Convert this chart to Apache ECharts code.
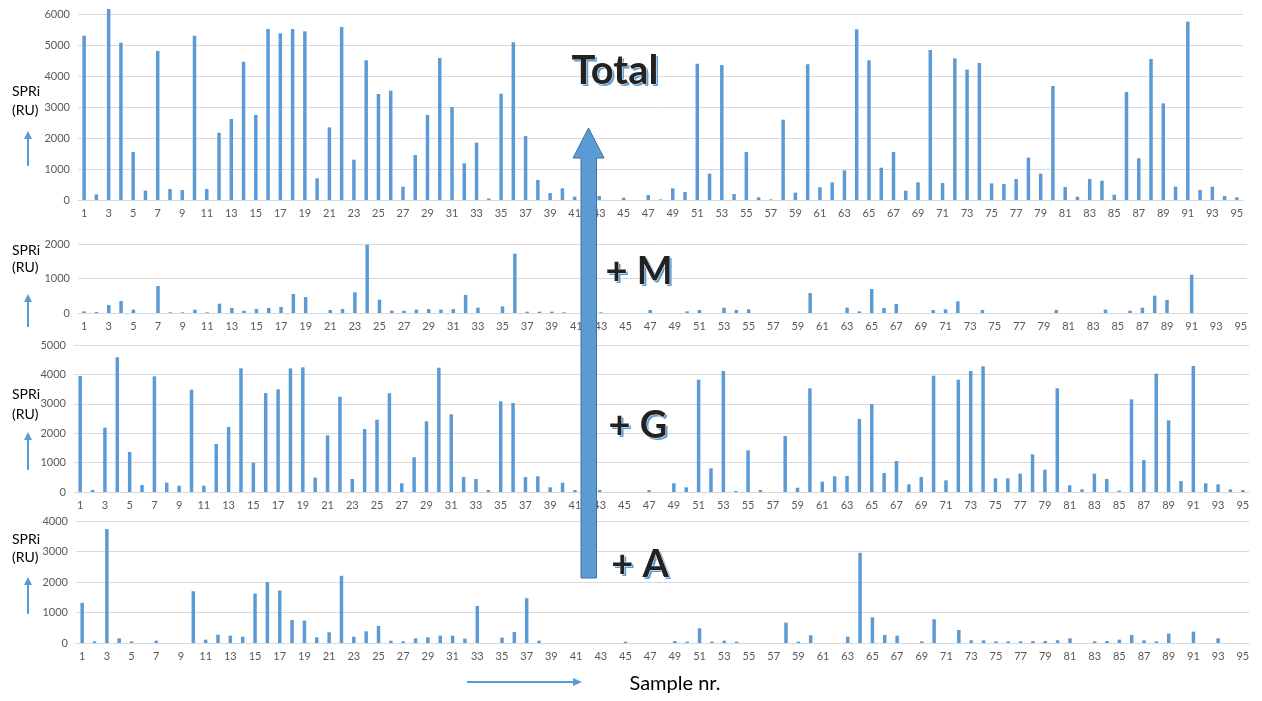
<!DOCTYPE html>
<html><head><meta charset="utf-8">
<script src="https://cdn.jsdelivr.net/npm/echarts@6/dist/echarts.min.js"></script>
<style>html,body{margin:0;padding:0;background:#fff}#c{width:1262px;height:701px}</style>
</head><body><div id="c"></div>
<script>
const samples = Array.from({length:95},(_,i)=>String(i+1));
const total = [5300,180,6160,5075,1550,300,4806,355,320,5300,
355,2172,2613,4462,2742,5516,5376,5516,5441,700,
2344,5580,1301,4505,3419,3527,430,1450,2742,4581,
3000,1183,1850,50,3430,5086,2065,645,226,376,
107,60,130,0,75,0,160,20,376,258,
4398,850,4355,194,1548,86,20,2591,237,4376,
409,570,957,5505,4505,1043,1548,301,570,4839,
548,4570,4204,4419,538,516,677,1366,850,3677,
419,107,677,624,172,3484,1344,4548,3118,430,
5753,323,430,129,86];
const plusM = [48,30,232,348,97,0,783,20,20,97,
20,270,145,68,116,145,174,551,464,0,
87,116,600,1980,386,68,68,97,116,97,
116,522,155,0,193,1720,39,39,39,20,
0,0,20,0,0,0,87,0,0,48,
87,0,155,87,106,0,0,0,0,580,
0,0,155,48,696,145,261,0,0,87,
106,338,0,87,0,0,0,0,0,87,
0,0,0,97,0,68,155,502,377,0,
1111,0,0,0,0];
const plusG = [3946,68,2188,4580,1360,238,3934,317,215,3480,
215,1633,2211,4206,998,3367,3492,4206,4240,488,
1927,3243,442,2143,2460,3356,295,1179,2404,4229,
2642,510,442,68,3084,3027,510,533,159,317,
68,60,68,0,0,0,68,0,295,159,
3821,805,4116,34,1417,68,0,1905,147,3526,
351,533,544,2483,2993,646,1054,261,510,3957,
397,3821,4116,4274,465,465,624,1281,760,3526,
227,91,624,442,45,3152,1088,4025,2438,374,
4286,295,261,91,68];
const plusA = [1315,55,3737,153,55,0,77,0,0,1699,
110,274,241,208,1622,1995,1721,756,734,186,
351,2203,208,384,559,77,55,153,186,241,
241,142,1216,0,175,362,1468,77,0,0,
0,0,0,0,44,0,0,0,66,44,
482,44,77,44,0,0,0,668,44,252,
0,0,208,2959,844,263,241,0,55,778,
0,427,88,88,55,55,55,66,66,88,
153,0,55,66,110,263,88,55,307,0,
373,0,153,0,0];
const yMax = [6000, 2000, 5000, 4000];
const yInterval = 1000;
const panelNames = ['Total', '+ M', '+ G', '+ A'];
const yTitle = ['SPRi', '(RU)'];
const xTitle = 'Sample nr.';

const seriesData = [total, plusM, plusG, plusA];
const grids = [
  {left:78, top:14, width:1165, height:186},
  {left:78, top:244, width:1169, height:69},
  {left:74, top:345, width:1175, height:147},
  {left:76, top:521, width:1173, height:122}
];
const FONT = 'Lato, "Open Sans", sans-serif';
const blue = '#5B9BD5';
const gray = '#595959';
const gridCol = '#d9d9d9';

const xAxis = grids.map((g,i)=>({
  type:'category', gridIndex:i, data:samples,
  axisTick:{show:false},
  axisLine:{lineStyle:{color:gridCol}},
  axisLabel:{interval:1, color:gray, fontSize:11, fontFamily:FONT, margin:8}
}));
const yAxis = grids.map((g,i)=>({
  type:'value', gridIndex:i, min:0, max:yMax[i], interval:yInterval,
  axisLine:{show:false}, axisTick:{show:false},
  splitLine:{lineStyle:{color:gridCol, width:1}},
  axisLabel:{color:gray, fontSize:11, fontFamily:FONT, margin:8, formatter:v=>String(v)}
}));
const series = seriesData.map((d,i)=>({
  type:'bar', xAxisIndex:i, yAxisIndex:i, data:d, barWidth:3.5,
  clip:false, itemStyle:{color:blue}, silent:true, animation:false
}));

const sideTitle = [{y1:93,y2:112,a1:166,a2:131},{y1:252,y2:269,a1:327,a2:294},{y1:396,y2:416,a1:470,a2:432},{y1:541,y2:559,a1:614,a2:577}];
const graphic = [];
sideTitle.forEach(s=>{
  graphic.push({type:'text', left:12, top:s.y1-9, style:{text:yTitle[0], font:'14px '+FONT, fill:'#000'}});
  graphic.push({type:'text', left:12, top:s.y2-9, style:{text:yTitle[1], font:'14px '+FONT, fill:'#000'}});
  graphic.push({type:'line', shape:{x1:28,y1:s.a1,x2:28,y2:s.a2+6}, style:{stroke:blue, lineWidth:2}});
  graphic.push({type:'polygon', shape:{points:[[24,s.a2+8],[28,s.a2],[32,s.a2+8]]}, style:{fill:blue}});
});
graphic.push({type:'polygon', z:100, shape:{points:[[581,578],[581,158],[573,158],[588.5,128],[604,158],[596.5,158],[596.5,578]]},
  style:{fill:blue, stroke:'#41719C', lineWidth:1}});
const labPos = [{x:615,y:71,fs:40},{x:639,y:272,fs:38},{x:638,y:426,fs:38},{x:640,y:565,fs:38}];
labPos.forEach((p,i)=>{
  graphic.push({type:'text', z:101, x:p.x+2, y:p.y+2, style:{text:panelNames[i], font:'bold '+p.fs+'px '+FONT, fill:blue, align:'center', verticalAlign:'middle'}});
  graphic.push({type:'text', z:102, x:p.x, y:p.y, style:{text:panelNames[i], font:'bold '+p.fs+'px '+FONT, fill:'#222', stroke:'#fff', lineWidth:1, align:'center', verticalAlign:'middle'}});
});
graphic.push({type:'text', x:675, y:684, style:{text:xTitle, font:'20px '+FONT, fill:'#000', align:'center', verticalAlign:'middle'}});
graphic.push({type:'line', shape:{x1:467,y1:682,x2:575,y2:682}, style:{stroke:blue, lineWidth:2}});
graphic.push({type:'polygon', shape:{points:[[573,678],[582,682],[573,686]]}, style:{fill:blue}});

const chart = echarts.init(document.getElementById('c'));
chart.setOption({
  animation:false,
  grid:grids,
  xAxis, yAxis, series, graphic
});
</script>
</body></html>
